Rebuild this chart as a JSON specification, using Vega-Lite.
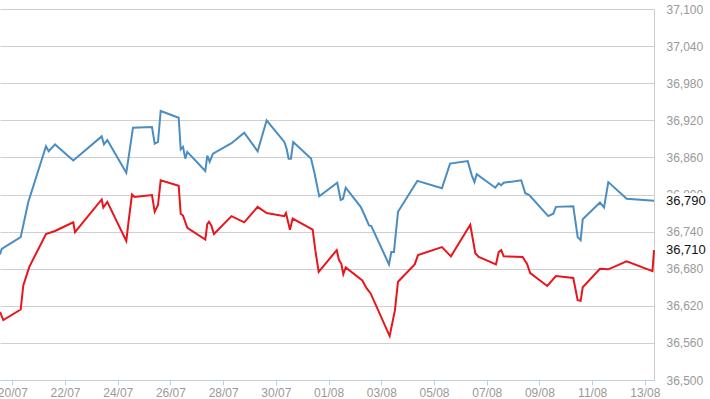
{
  "$schema": "https://vega.github.io/schema/vega-lite/v6.json",
  "width": 654,
  "height": 371,
  "autosize": {"type": "none"},
  "padding": {"left": 0, "top": 9, "right": 56, "bottom": 19},
  "background": "white",
  "config": {
    "view": {"stroke": null},
    "font": "Liberation Sans"
  },
  "datasets": {
    "lines": [
      {"t": "2018-07-19T12:48", "v": 36703, "s": "Series 1"},
      {"t": "2018-07-19T14:21", "v": 36712, "s": "Series 1"},
      {"t": "2018-07-20T07:39", "v": 36731, "s": "Series 1"},
      {"t": "2018-07-20T14:34", "v": 36788, "s": "Series 1"},
      {"t": "2018-07-21T06:41", "v": 36878, "s": "Series 1"},
      {"t": "2018-07-21T09:08", "v": 36870, "s": "Series 1"},
      {"t": "2018-07-21T14:53", "v": 36881, "s": "Series 1"},
      {"t": "2018-07-22T07:32", "v": 36855, "s": "Series 1"},
      {"t": "2018-07-23T09:24", "v": 36894, "s": "Series 1"},
      {"t": "2018-07-23T11:29", "v": 36881, "s": "Series 1"},
      {"t": "2018-07-23T14:30", "v": 36888, "s": "Series 1"},
      {"t": "2018-07-24T07:48", "v": 36835, "s": "Series 1"},
      {"t": "2018-07-24T13:54", "v": 36908, "s": "Series 1"},
      {"t": "2018-07-25T07:12", "v": 36909, "s": "Series 1"},
      {"t": "2018-07-25T09:40", "v": 36882, "s": "Series 1"},
      {"t": "2018-07-25T12:40", "v": 36885, "s": "Series 1"},
      {"t": "2018-07-25T15:07", "v": 36935, "s": "Series 1"},
      {"t": "2018-07-26T07:31", "v": 36924, "s": "Series 1"},
      {"t": "2018-07-26T09:20", "v": 36873, "s": "Series 1"},
      {"t": "2018-07-26T11:25", "v": 36877, "s": "Series 1"},
      {"t": "2018-07-26T13:31", "v": 36858, "s": "Series 1"},
      {"t": "2018-07-26T15:20", "v": 36869, "s": "Series 1"},
      {"t": "2018-07-27T07:44", "v": 36838, "s": "Series 1"},
      {"t": "2018-07-27T09:33", "v": 36863, "s": "Series 1"},
      {"t": "2018-07-27T11:44", "v": 36853, "s": "Series 1"},
      {"t": "2018-07-27T14:44", "v": 36866, "s": "Series 1"},
      {"t": "2018-07-28T07:36", "v": 36883, "s": "Series 1"},
      {"t": "2018-07-28T19:12", "v": 36900, "s": "Series 1"},
      {"t": "2018-07-29T07:24", "v": 36870, "s": "Series 1"},
      {"t": "2018-07-29T15:36", "v": 36920, "s": "Series 1"},
      {"t": "2018-07-30T07:42", "v": 36885, "s": "Series 1"},
      {"t": "2018-07-30T09:48", "v": 36874, "s": "Series 1"},
      {"t": "2018-07-30T11:36", "v": 36858, "s": "Series 1"},
      {"t": "2018-07-30T13:42", "v": 36858, "s": "Series 1"},
      {"t": "2018-07-30T15:48", "v": 36885, "s": "Series 1"},
      {"t": "2018-07-31T08:00", "v": 36858, "s": "Series 1"},
      {"t": "2018-07-31T11:00", "v": 36836, "s": "Series 1"},
      {"t": "2018-07-31T12:30", "v": 36823, "s": "Series 1"},
      {"t": "2018-07-31T15:30", "v": 36797, "s": "Series 1"},
      {"t": "2018-08-01T07:54", "v": 36819, "s": "Series 1"},
      {"t": "2018-08-01T11:00", "v": 36791, "s": "Series 1"},
      {"t": "2018-08-01T13:06", "v": 36793, "s": "Series 1"},
      {"t": "2018-08-01T15:36", "v": 36811, "s": "Series 1"},
      {"t": "2018-08-02T05:12", "v": 36780, "s": "Series 1"},
      {"t": "2018-08-02T08:54", "v": 36766, "s": "Series 1"},
      {"t": "2018-08-02T12:48", "v": 36750, "s": "Series 1"},
      {"t": "2018-08-02T14:54", "v": 36749, "s": "Series 1"},
      {"t": "2018-08-03T07:00", "v": 36687, "s": "Series 1"},
      {"t": "2018-08-03T09:06", "v": 36707, "s": "Series 1"},
      {"t": "2018-08-03T11:30", "v": 36707, "s": "Series 1"},
      {"t": "2018-08-03T15:12", "v": 36772, "s": "Series 1"},
      {"t": "2018-08-04T08:48", "v": 36822, "s": "Series 1"},
      {"t": "2018-08-05T07:12", "v": 36810, "s": "Series 1"},
      {"t": "2018-08-05T14:36", "v": 36850, "s": "Series 1"},
      {"t": "2018-08-06T06:42", "v": 36854, "s": "Series 1"},
      {"t": "2018-08-06T10:24", "v": 36831, "s": "Series 1"},
      {"t": "2018-08-06T12:48", "v": 36820, "s": "Series 1"},
      {"t": "2018-08-06T14:54", "v": 36833, "s": "Series 1"},
      {"t": "2018-08-07T07:48", "v": 36811, "s": "Series 1"},
      {"t": "2018-08-07T10:54", "v": 36818, "s": "Series 1"},
      {"t": "2018-08-07T13:12", "v": 36815, "s": "Series 1"},
      {"t": "2018-08-07T15:24", "v": 36819, "s": "Series 1"},
      {"t": "2018-08-08T07:24", "v": 36823, "s": "Series 1"},
      {"t": "2018-08-08T11:06", "v": 36802, "s": "Series 1"},
      {"t": "2018-08-08T14:42", "v": 36799, "s": "Series 1"},
      {"t": "2018-08-09T08:00", "v": 36765, "s": "Series 1"},
      {"t": "2018-08-09T12:36", "v": 36769, "s": "Series 1"},
      {"t": "2018-08-09T15:00", "v": 36780, "s": "Series 1"},
      {"t": "2018-08-10T06:48", "v": 36781, "s": "Series 1"},
      {"t": "2018-08-10T10:48", "v": 36731, "s": "Series 1"},
      {"t": "2018-08-10T13:30", "v": 36726, "s": "Series 1"},
      {"t": "2018-08-10T15:24", "v": 36760, "s": "Series 1"},
      {"t": "2018-08-11T07:06", "v": 36787, "s": "Series 1"},
      {"t": "2018-08-11T10:48", "v": 36779, "s": "Series 1"},
      {"t": "2018-08-11T14:42", "v": 36820, "s": "Series 1"},
      {"t": "2018-08-12T07:24", "v": 36793, "s": "Series 1"},
      {"t": "2018-08-13T08:18", "v": 36790, "s": "Series 1"},

      {"t": "2018-07-19T12:48", "v": 36610, "s": "Series 2"},
      {"t": "2018-07-19T15:48", "v": 36597, "s": "Series 2"},
      {"t": "2018-07-20T07:39", "v": 36614, "s": "Series 2"},
      {"t": "2018-07-20T10:00", "v": 36653, "s": "Series 2"},
      {"t": "2018-07-20T15:29", "v": 36683, "s": "Series 2"},
      {"t": "2018-07-21T06:41", "v": 36736, "s": "Series 2"},
      {"t": "2018-07-21T14:53", "v": 36741, "s": "Series 2"},
      {"t": "2018-07-22T07:32", "v": 36755, "s": "Series 2"},
      {"t": "2018-07-22T09:05", "v": 36739, "s": "Series 2"},
      {"t": "2018-07-23T09:24", "v": 36792, "s": "Series 2"},
      {"t": "2018-07-23T10:52", "v": 36779, "s": "Series 2"},
      {"t": "2018-07-23T14:30", "v": 36788, "s": "Series 2"},
      {"t": "2018-07-24T07:48", "v": 36725, "s": "Series 2"},
      {"t": "2018-07-24T09:59", "v": 36758, "s": "Series 2"},
      {"t": "2018-07-24T12:59", "v": 36800, "s": "Series 2"},
      {"t": "2018-07-24T15:26", "v": 36796, "s": "Series 2"},
      {"t": "2018-07-25T07:12", "v": 36799, "s": "Series 2"},
      {"t": "2018-07-25T09:40", "v": 36772, "s": "Series 2"},
      {"t": "2018-07-25T12:40", "v": 36783, "s": "Series 2"},
      {"t": "2018-07-25T15:07", "v": 36823, "s": "Series 2"},
      {"t": "2018-07-26T07:31", "v": 36814, "s": "Series 2"},
      {"t": "2018-07-26T09:20", "v": 36769, "s": "Series 2"},
      {"t": "2018-07-26T11:25", "v": 36766, "s": "Series 2"},
      {"t": "2018-07-26T15:20", "v": 36746, "s": "Series 2"},
      {"t": "2018-07-27T07:44", "v": 36727, "s": "Series 2"},
      {"t": "2018-07-27T09:33", "v": 36752, "s": "Series 2"},
      {"t": "2018-07-27T11:06", "v": 36756, "s": "Series 2"},
      {"t": "2018-07-27T13:12", "v": 36750, "s": "Series 2"},
      {"t": "2018-07-27T15:36", "v": 36736, "s": "Series 2"},
      {"t": "2018-07-28T07:36", "v": 36765, "s": "Series 2"},
      {"t": "2018-07-28T19:12", "v": 36755, "s": "Series 2"},
      {"t": "2018-07-29T07:24", "v": 36780, "s": "Series 2"},
      {"t": "2018-07-29T15:36", "v": 36770, "s": "Series 2"},
      {"t": "2018-07-30T07:42", "v": 36765, "s": "Series 2"},
      {"t": "2018-07-30T09:12", "v": 36770, "s": "Series 2"},
      {"t": "2018-07-30T12:48", "v": 36743, "s": "Series 2"},
      {"t": "2018-07-30T15:18", "v": 36761, "s": "Series 2"},
      {"t": "2018-07-31T09:30", "v": 36743, "s": "Series 2"},
      {"t": "2018-07-31T11:54", "v": 36710, "s": "Series 2"},
      {"t": "2018-07-31T15:00", "v": 36675, "s": "Series 2"},
      {"t": "2018-08-01T07:24", "v": 36710, "s": "Series 2"},
      {"t": "2018-08-01T09:30", "v": 36694, "s": "Series 2"},
      {"t": "2018-08-01T11:36", "v": 36688, "s": "Series 2"},
      {"t": "2018-08-01T13:24", "v": 36671, "s": "Series 2"},
      {"t": "2018-08-01T15:36", "v": 36682, "s": "Series 2"},
      {"t": "2018-08-02T06:42", "v": 36661, "s": "Series 2"},
      {"t": "2018-08-02T10:42", "v": 36648, "s": "Series 2"},
      {"t": "2018-08-02T14:18", "v": 36640, "s": "Series 2"},
      {"t": "2018-08-03T07:36", "v": 36571, "s": "Series 2"},
      {"t": "2018-08-03T12:24", "v": 36613, "s": "Series 2"},
      {"t": "2018-08-03T15:12", "v": 36659, "s": "Series 2"},
      {"t": "2018-08-04T06:24", "v": 36687, "s": "Series 2"},
      {"t": "2018-08-04T09:24", "v": 36702, "s": "Series 2"},
      {"t": "2018-08-05T07:12", "v": 36715, "s": "Series 2"},
      {"t": "2018-08-05T15:24", "v": 36700, "s": "Series 2"},
      {"t": "2018-08-06T09:00", "v": 36751, "s": "Series 2"},
      {"t": "2018-08-06T13:36", "v": 36705, "s": "Series 2"},
      {"t": "2018-08-06T16:42", "v": 36699, "s": "Series 2"},
      {"t": "2018-08-07T08:24", "v": 36687, "s": "Series 2"},
      {"t": "2018-08-07T10:54", "v": 36707, "s": "Series 2"},
      {"t": "2018-08-07T13:12", "v": 36710, "s": "Series 2"},
      {"t": "2018-08-07T15:24", "v": 36700, "s": "Series 2"},
      {"t": "2018-08-08T08:42", "v": 36699, "s": "Series 2"},
      {"t": "2018-08-08T11:06", "v": 36692, "s": "Series 2"},
      {"t": "2018-08-08T12:36", "v": 36688, "s": "Series 2"},
      {"t": "2018-08-08T15:36", "v": 36673, "s": "Series 2"},
      {"t": "2018-08-09T07:06", "v": 36652, "s": "Series 2"},
      {"t": "2018-08-09T15:00", "v": 36668, "s": "Series 2"},
      {"t": "2018-08-10T06:48", "v": 36665, "s": "Series 2"},
      {"t": "2018-08-10T10:48", "v": 36629, "s": "Series 2"},
      {"t": "2018-08-10T13:30", "v": 36628, "s": "Series 2"},
      {"t": "2018-08-10T15:24", "v": 36650, "s": "Series 2"},
      {"t": "2018-08-11T07:06", "v": 36680, "s": "Series 2"},
      {"t": "2018-08-11T14:42", "v": 36679, "s": "Series 2"},
      {"t": "2018-08-12T07:24", "v": 36692, "s": "Series 2"},
      {"t": "2018-08-13T06:54", "v": 36676, "s": "Series 2"},
      {"t": "2018-08-13T08:18", "v": 36710, "s": "Series 2"}
    ],
    "last": [
      {"t": "2018-08-13T08:18", "v": 36790, "s": "Series 1"},
      {"t": "2018-08-13T08:18", "v": 36710, "s": "Series 2"}
    ]
  },
  "encoding": {
    "x": {
      "field": "t",
      "type": "temporal",
      "scale": {
        "domain": [
          {"year": 2018, "month": 7, "date": 19, "hours": 12, "minutes": 48},
          {"year": 2018, "month": 8, "date": 13, "hours": 8, "minutes": 18}
        ]
      },
      "axis": {
        "title": null,
        "format": "%d/%m",
        "values": [
          {"year": 2018, "month": 7, "date": 20},
          {"year": 2018, "month": 7, "date": 22},
          {"year": 2018, "month": 7, "date": 24},
          {"year": 2018, "month": 7, "date": 26},
          {"year": 2018, "month": 7, "date": 28},
          {"year": 2018, "month": 7, "date": 30},
          {"year": 2018, "month": 8, "date": 1},
          {"year": 2018, "month": 8, "date": 3},
          {"year": 2018, "month": 8, "date": 5},
          {"year": 2018, "month": 8, "date": 7},
          {"year": 2018, "month": 8, "date": 9},
          {"year": 2018, "month": 8, "date": 11},
          {"year": 2018, "month": 8, "date": 13}
        ],
        "grid": false,
        "domainColor": "#c3d0dc",
        "tickColor": "#c3d0dc",
        "tickSize": 5,
        "labelColor": "#999999",
        "labelFontSize": 12,
        "labelPadding": 2,
        "labelFlush": false,
        "labelOverlap": false
      }
    },
    "y": {
      "field": "v",
      "type": "quantitative",
      "scale": {"domain": [36500, 37100], "zero": false, "nice": false},
      "axis": {
        "title": null,
        "orient": "right",
        "values": [36500, 36560, 36620, 36680, 36740, 36800, 36860, 36920, 36980, 37040, 37100],
        "format": ",.0f",
        "grid": true,
        "gridColor": "#cfcfcf",
        "gridWidth": 1,
        "domainColor": "#cccccc",
        "ticks": false,
        "labelColor": "#999999",
        "labelFontSize": 12,
        "labelPadding": 12,
        "labelFlush": false,
        "labelOverlap": false
      }
    }
  },
  "layer": [
    {
      "data": {"name": "lines"},
      "mark": {"type": "line", "strokeWidth": 2, "interpolate": "linear"},
      "encoding": {
        "color": {
          "field": "s",
          "type": "nominal",
          "scale": {"domain": ["Series 1", "Series 2"], "range": ["#4a8dc3", "#e8161c"]},
          "legend": null
        }
      }
    },
    {
      "data": {"name": "last"},
      "mark": {"type": "text", "align": "left", "baseline": "middle", "dx": 12, "fontSize": 13, "stroke": "white", "strokeWidth": 6, "fill": "white"},
      "encoding": {"text": {"field": "v", "type": "quantitative", "format": ",.0f"}}
    },
    {
      "data": {"name": "last"},
      "mark": {"type": "text", "align": "left", "baseline": "middle", "dx": 12, "fontSize": 13, "fill": "#111111"},
      "encoding": {"text": {"field": "v", "type": "quantitative", "format": ",.0f"}}
    }
  ]
}
